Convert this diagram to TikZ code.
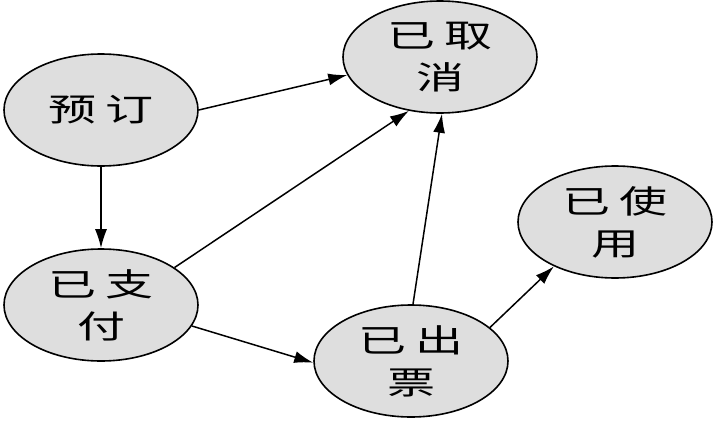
\documentclass[tikz,border=0pt]{standalone}
\usepackage{fontspec}
\usepackage{graphicx}
\newfontfamily\cjk{Noto Sans CJK SC}
\newcommand{\wideln}[1]{\scalebox{1.5}[1]{#1}}
\usetikzlibrary{arrows.meta,shapes.geometric}
\definecolor{stategray}{HTML}{DEDEDE}
\begin{document}
\begin{tikzpicture}[x=1pt,y=-1pt,
  state/.style={ellipse, draw=black, line width=1.6pt, fill=stategray,
    minimum width=194pt, minimum height=112pt, inner sep=0pt, align=center,
    font=\cjk\fontsize{32}{42}\selectfont},
  flow/.style={line width=1.5pt, draw=black, -{Latex[length=19pt,width=12pt]}}]
\useasboundingbox[fill=white] (0,0) rectangle (720,423);
\node[state] (yd)  at (101,110) {\wideln{预\hspace{6pt}订}};
\node[state] (yqx) at (440,57)  {\wideln{已\hspace{6pt}取}\\\wideln{消}};
\node[state] (yzf) at (101,305) {\wideln{已\hspace{6pt}支}\\\wideln{付}};
\node[state] (ycp) at (411,361) {\wideln{已\hspace{6pt}出}\\\wideln{票}};
\node[state] (ysy) at (615,222) {\wideln{已\hspace{6pt}使}\\\wideln{用}};
\draw[flow] (yd.0) -- (yqx.191);
\draw[flow] (yd.south) -- (yzf.north);
\draw[flow] (yzf.27) -- (yqx.240);
\draw[flow] (yzf.347) -- (ycp.181);
\draw[flow] (ycp.88) -- (yqx.272);
\draw[flow] (ycp.23) -- (ysy.216);
\end{tikzpicture}
\end{document}
